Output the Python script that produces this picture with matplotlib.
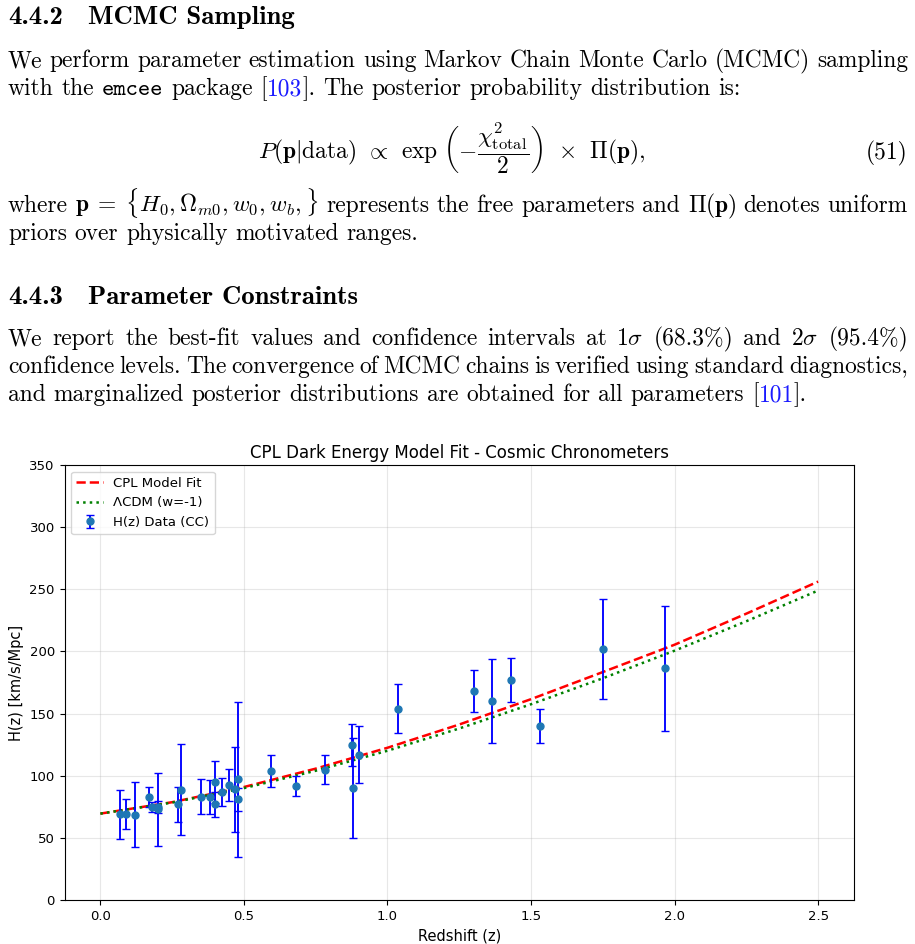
import matplotlib
matplotlib.use("Agg")
import matplotlib.pyplot as plt

plt.rcParams['mathtext.fontset'] = 'cm'

W, H = 915, 944

# cosmic chronometer data
z_cc = [0.07, 0.09, 0.12, 0.17, 0.179, 0.199, 0.20, 0.27, 0.28, 0.352, 0.3802,
        0.40, 0.4004, 0.4247, 0.4497, 0.47, 0.4783, 0.48, 0.593, 0.68, 0.781,
        0.875, 0.88, 0.90, 1.037, 1.30, 1.363, 1.43, 1.53, 1.75, 1.965]
h_cc = [69, 69, 68.6, 83, 75, 75, 72.9, 77, 88.8, 83, 83,
        95, 77, 87.1, 92.8, 89, 80.9, 97, 104, 92, 105,
        125, 90, 117, 154, 168, 160, 177, 140, 202, 186.5]
err_cc = [19.6, 12, 26.2, 8, 4, 5, 29.6, 14, 36.6, 14, 13.5,
          17, 10.2, 11.2, 12.9, 34, 9, 62, 13, 8, 12,
          17, 40, 23, 20, 17, 33.6, 18, 14, 40, 50.4]

# model curves
z_model = [0.0, 0.25, 0.5, 0.75, 1.0, 1.25, 1.5, 1.75, 2.0, 2.25, 2.5]
h_cpl = [69.5, 78.7, 90.9, 105.7, 122.5, 141.2, 161.6, 183.4, 205.4, 230.4, 256.2]
h_lcdm = [69.5, 78.4, 90.0, 104.0, 120.1, 138.0, 157.5, 178.4, 200.6, 224.3, 249.0]

FS = 16.9
HFS = 19.3
SP = FS * 100 / 72 * 0.333

fig = plt.figure(figsize=(W / 100, H / 100), dpi=100)
r = fig.canvas.get_renderer()


def put_line(words, y, justify=False, x0=8, x1=908):
    made = []
    widths = []
    for w in words:
        if isinstance(w, str):
            w = [(w, {})]
        parts = []
        tot = 0
        for s, kw in w:
            props = dict(fontsize=FS, family='cmr10', va='baseline')
            props.update(kw)
            t = fig.text(0, 1 - y / H, s, **props)
            bw = t.get_window_extent(r).width
            parts.append((t, bw))
            tot += bw
        made.append(parts)
        widths.append(tot)
    if justify:
        gap = (x1 - x0 - sum(widths)) / (len(words) - 1)
    else:
        gap = SP
    x = x0
    for parts, wd in zip(made, widths):
        xx = x
        for t, pw in parts:
            t.set_x(xx / W)
            xx += pw
        x += wd + gap


def heading(num, title, y):
    fig.text(8 / W, 1 - y / H, num, fontsize=HFS, family='cmb10', va='baseline')
    fig.text(88 / W, 1 - y / H, title, fontsize=HFS, family='cmb10', va='baseline')


blue = {'color': '#1a1aff'}

heading("4.4.2", "MCMC Sampling", 24)
put_line("We perform parameter estimation using Markov Chain Monte Carlo (MCMC) sampling".split(),
         67, justify=True)
put_line(["with", "the", [("emcee", {'family': 'cmtt10'})], "package",
          [("[", {}), ("103", blue), ("].", {})],
          "The", "posterior", "probability", "distribution", "is:"], 95)

fig.text(452 / W, 1 - 159 / H,
         r"$P(\mathbf{p}|\mathrm{data})\;\,\propto\;\,\exp\,\left(-\dfrac{\chi^2_{\mathrm{total}}}{2}\right)\;\,\times\;\,\Pi(\mathbf{p}),$",
         fontsize=FS, ha='center', va='baseline')
fig.text(908 / W, 1 - 159 / H, "(51)", fontsize=FS, family='cmr10', ha='right', va='baseline')

put_line(["where", [(r"$\mathbf{p}\;=\;\{H_0, \Omega_{m0}, w_0, w_b,\}$", {})], "represents", "the",
          "free", "parameters", "and", [(r"$\Pi(\mathbf{p})$", {})], "denotes", "uniform"],
         212, justify=True)
put_line("priors over physically motivated ranges.".split(), 240)

heading("4.4.3", "Parameter Constraints", 304)
put_line(["We", "report", "the", "best-fit", "values", "and", "confidence", "intervals", "at",
          [(r"$1\sigma$", {})], "(68.3%)", "and", [(r"$2\sigma$", {})], "(95.4%)"],
         345, justify=True)
put_line("confidence levels. The convergence of MCMC chains is verified using standard diagnostics,".split(),
         373, justify=True)
put_line(["and", "marginalized", "posterior", "distributions", "are", "obtained", "for", "all",
          "parameters", [("[", {}), ("101", blue), ("].", {})]], 401)

# chart
ax = fig.add_axes([64.5 / W, 1 - 900 / H, (854 - 64.5) / W, (900 - 465) / H])
ax.plot(z_model, h_cpl, 'r--', lw=1.8, label='CPL Model Fit')
ax.plot(z_model, h_lcdm, 'g:', lw=1.8, label='ΛCDM (w=-1)')
ax.errorbar(z_cc, h_cc, yerr=err_cc, fmt='o', ecolor='blue', elinewidth=1.35,
            capsize=3, markersize=5, label='H(z) Data (CC)')
ax.set_xlabel('Redshift (z)', fontsize=10.5)
ax.set_ylabel('H(z) [km/s/Mpc]', fontsize=10.5)
ax.set_title('CPL Dark Energy Model Fit - Cosmic Chronometers', fontsize=12, pad=5)
ax.set_ylim(0, 350)
ax.tick_params(labelsize=9.5)
ax.grid(True, alpha=0.3)
ax.legend(loc='upper left', fontsize=9.5)

fig.savefig('out.png', dpi=100)
